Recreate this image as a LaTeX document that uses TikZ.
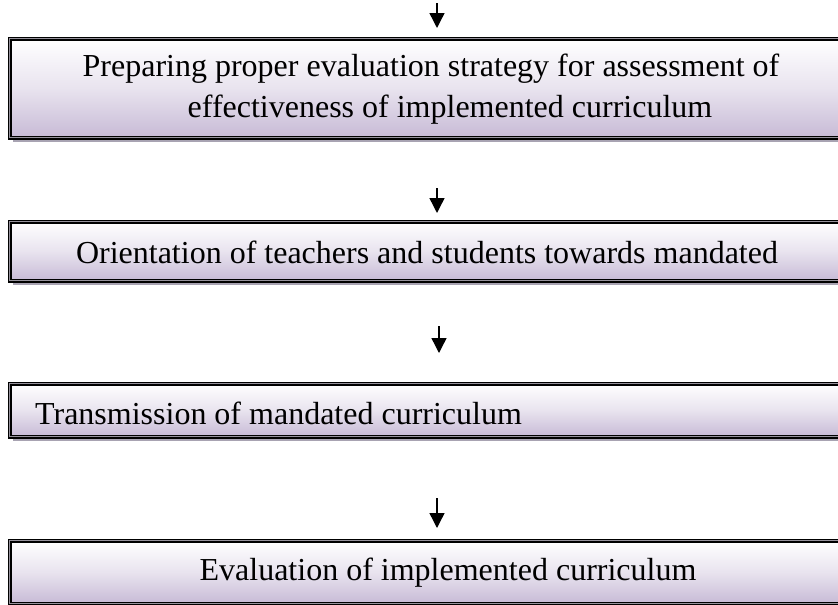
\documentclass[tikz,border=0pt]{standalone}
\usepackage{fontspec}
\setmainfont{Liberation Serif}
\usetikzlibrary{shadows,arrows.meta}
\definecolor{lav}{RGB}{199,186,214}
\definecolor{shadowc}{RGB}{168,163,178}
\definecolor{innerc}{RGB}{150,146,156}
\tikzset{
  boxstyle/.style={draw=black, line width=3.5pt, rectangle, inner sep=0pt,
    top color=white, bottom color=lav, middle color=lav!40,
    minimum width=880pt, anchor=north west,
    drop shadow={shadow xshift=3pt, shadow yshift=-4pt, fill=shadowc, opacity=1}},
  innerline/.style={draw=innerc, line width=1pt},
  txt/.style={font=\fontsize{32}{42}\selectfont, inner sep=0pt, align=center, anchor=base},
  arr/.style={line width=1.4pt, -{Triangle[width=15pt,length=15pt]}}
}
\newcommand{\boxinner}[1]{\draw[innerline] ([shift={(1.9pt,-1.9pt)}]#1.north west) rectangle ([shift={(-1.9pt,1.9pt)}]#1.south east);}
\begin{document}
\begin{tikzpicture}[x=1pt,y=-1pt]
\useasboundingbox (0,0) rectangle (838,605);
\clip (0,0) rectangle (838,605);
% boxes
\node[boxstyle, minimum height=99pt] (b1) at (8,37) {};
\node[boxstyle, minimum height=59pt] (b2) at (8,220) {};
\node[boxstyle, minimum height=53pt] (b3) at (8,382) {};
\node[boxstyle, minimum height=63pt] (b4) at (8,539) {};
\boxinner{b1}\boxinner{b2}\boxinner{b3}\boxinner{b4}
% texts
\node[txt] (t1a) at (431,76) {Preparing proper evaluation strategy for assessment of};
\node[txt] (t1b) at (450,117) {effectiveness of implemented curriculum};
\node[txt] (t2) at (427,263) {Orientation of teachers and students towards mandated};
\node[txt, anchor=base west] (t3) at (35,424) {Transmission of mandated curriculum};
\node[txt] (t4) at (448,580) {Evaluation of implemented curriculum};
% arrow end points
\coordinate (a1s) at (437,3);   \coordinate (a1e) at (437,28);
\coordinate (a2s) at (437,188); \coordinate (a2e) at (437,213);
\coordinate (a3s) at (439,326); \coordinate (a3e) at (439,353);
\coordinate (a4s) at (437,498); \coordinate (a4e) at (437,528);
\draw[arr] (a1s) -- (a1e);
\draw[arr] (a2s) -- (a2e);
\draw[arr] (a3s) -- (a3e);
\draw[arr] (a4s) -- (a4e);
\end{tikzpicture}
\end{document}
